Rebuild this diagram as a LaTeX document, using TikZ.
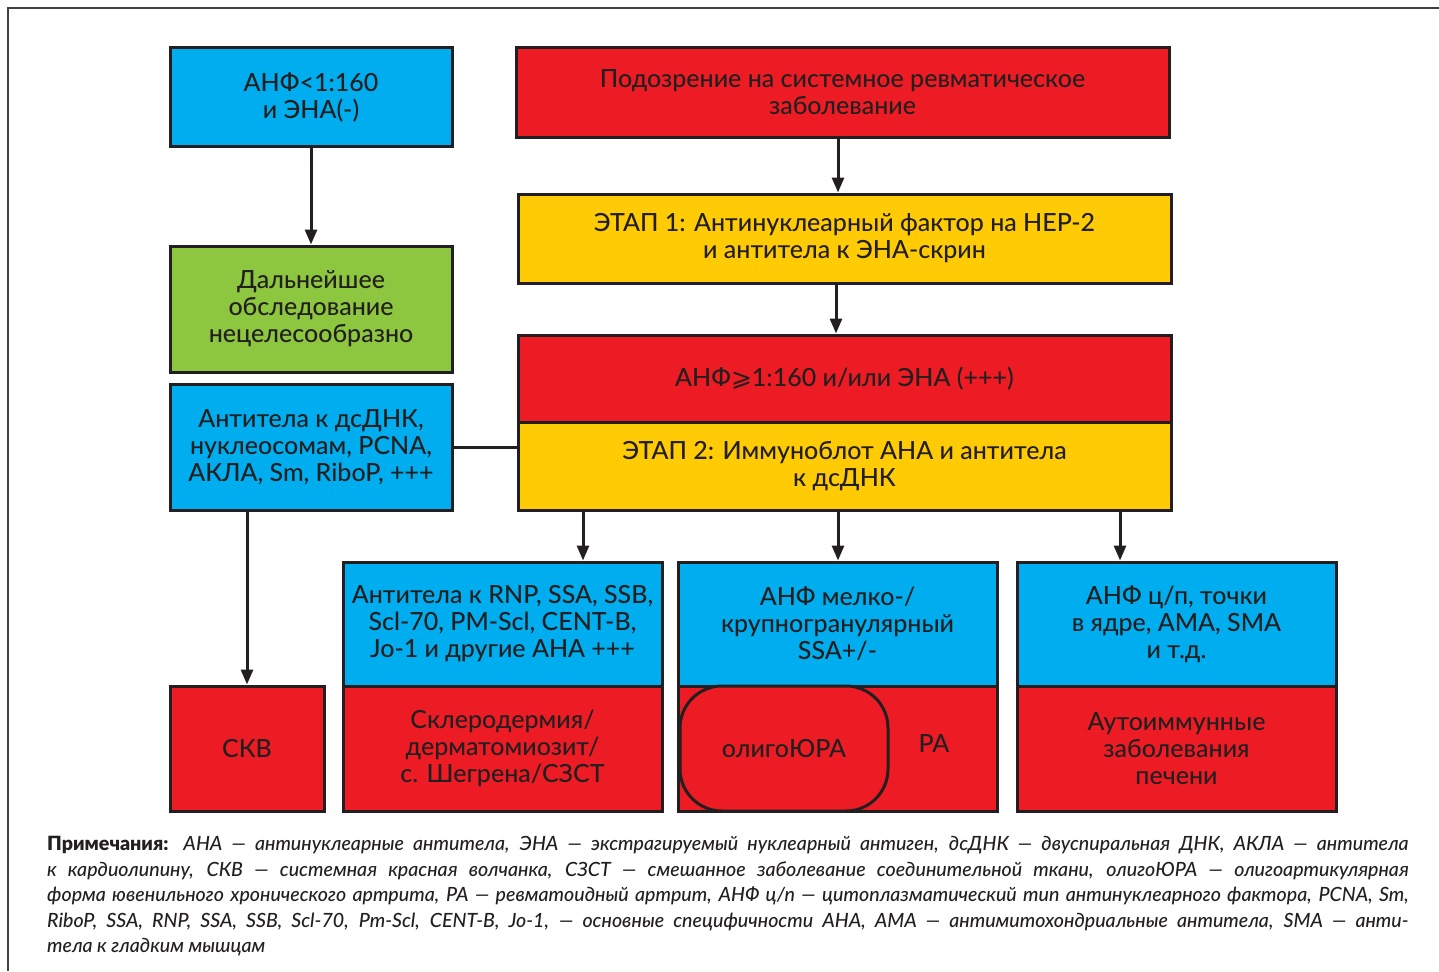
\documentclass[tikz,border=0pt]{standalone}
\usepackage{fontspec}
\setmainfont{Lato}
\newfontfamily\medfont{Lato Medium}
\newfontfamily\symfont{DejaVu Sans}
\usetikzlibrary{arrows.meta}
\definecolor{cblue}{HTML}{00AEEF}
\definecolor{cred}{HTML}{ED1C24}
\definecolor{cyellow}{HTML}{FFCB05}
\definecolor{cgreen}{HTML}{8DC63F}
\definecolor{cink}{HTML}{231F20}
\tikzset{
  boxfont/.style={font=\medfont\fontsize{25}{27}\selectfont},
  box/.style={draw=cink, line width=3pt, inner sep=0pt, align=center, text=cink, boxfont},
  arr/.style={draw=cink, line width=3pt, -{Triangle[length=15pt,width=12pt]}},
  conn/.style={draw=cink, line width=3pt},
}
\begin{document}
\begin{tikzpicture}[x=1pt,y=-1pt]
\useasboundingbox (0,0) rectangle (1439,971);
\draw[line width=2pt, cink!85] (8,971) -- (8,8) -- (1439,8);

\node[box, fill=cblue, minimum width=282, minimum height=98] (a) at (311,97) {АНФ<1:160\\и ЭНА(-)};
\node[box, fill=cred, minimum width=653, minimum height=89] (b) at (842.5,92.5) {Подозрение на системное ревматическое\\заболевание};
\node[box, fill=cgreen, minimum width=282, minimum height=126] (c) at (311,309) {Дальнейшее\\обследование\\нецелесообразно};
\node[box, fill=cyellow, minimum width=653, minimum height=89] (d) at (844.5,238.5) {ЭТАП 1: Антинуклеарный фактор на HEP-2\\и антитела к ЭНА-скрин};
\node[box, fill=cred, minimum width=653, minimum height=87] (e) at (844.5,378.5) {АНФ{\symfont ⩾}1:160 и/или ЭНА (+++)};
\node[box, fill=cyellow, minimum width=653, minimum height=88] (f) at (844.5,466) {ЭТАП 2: Иммуноблот АНА и антитела\\к дсДНК};
\node[box, fill=cblue, minimum width=282, minimum height=126] (g) at (311,447) {Антитела к дсДНК,\\нуклеосомам, PCNA,\\АКЛА, Sm, RiboP, +++};
\node[box, fill=cred, minimum width=154, minimum height=125] (h) at (247,748.5) {СКВ};
\node[box, fill=cblue, minimum width=319, minimum height=124] (i1) at (502.5,624) {Антитела к RNP, SSA, SSB,\\Scl-70, PM-Scl, CENT-B,\\Jo-1 и другие АНА +++};
\node[box, fill=cred, minimum width=319, minimum height=125] (i2) at (502.5,748.5) {Склеродермия/\\дерматомиозит/\\с. Шегрена/СЗСТ};
\node[box, fill=cblue, minimum width=319, minimum height=124] (j1) at (837.5,624) {АНФ мелко-/\\крупногранулярный\\SSA+/-};
\node[box, fill=cred, minimum width=319, minimum height=125] (j2) at (837.5,748.5) {};
\node[box, fill=cred, rounded corners=42pt, minimum width=208, minimum height=125] (ol) at (784,748.5) {олигоЮРА};
\node[boxfont, text=cink] (ra) at (934,744) {РА};
\node[box, fill=cblue, minimum width=319, minimum height=124] (k1) at (1176.5,624) {АНФ ц/п, точки\\в ядре, АМА, SMA\\и т.д.};
\node[box, fill=cred, minimum width=319, minimum height=125] (k2) at (1176.5,748.5) {Аутоиммунные\\заболевания\\печени};

\draw[arr] (a.south) -- (c.north);
\draw[arr] (b.south -| 838,0) -- (d.north -| 838,0);
\draw[arr] (d.south -| 836,0) -- (e.north -| 836,0);
\draw[conn] (g.east) -- (g.east -| f.west);
\draw[arr] (g.south -| 247,0) -- (h.north -| 247,0);
\draw[arr] (f.south -| 583,0) -- (i1.north -| 583,0);
\draw[arr] (f.south -| 838,0) -- (j1.north -| 838,0);
\draw[arr] (f.south -| 1120,0) -- (k1.north -| 1120,0);

\node[anchor=north west, inner sep=0pt, text width=1361pt, align=justify, text=cink,
  font=\medfont\fontsize{19.6}{25.5}\selectfont\itshape] (notes) at (47,836)
{{\upshape\bfseries Примечания:} АНА — антинуклеарные антитела, ЭНА — экстрагируемый нуклеарный антиген, дсДНК — двуспиральная ДНК, АКЛА — антитела\linebreak
к кардиолипину, СКВ — системная красная волчанка, СЗСТ — смешанное заболевание соединительной ткани, олигоЮРА — олигоартикулярная\linebreak
форма ювенильного хронического артрита, РА — ревматоидный артрит, АНФ ц/п — цитоплазматический тип антинуклеарного фактора, PCNA,~Sm,\linebreak
RiboP, SSA, RNP, SSA, SSB, Scl-70, Pm-Scl, CENT-B, Jo-1, — основные специфичности АНА, АМА — антимитохондриальные антитела, SMA — анти-\linebreak
тела к гладким мышцам};
\end{tikzpicture}
\end{document}
